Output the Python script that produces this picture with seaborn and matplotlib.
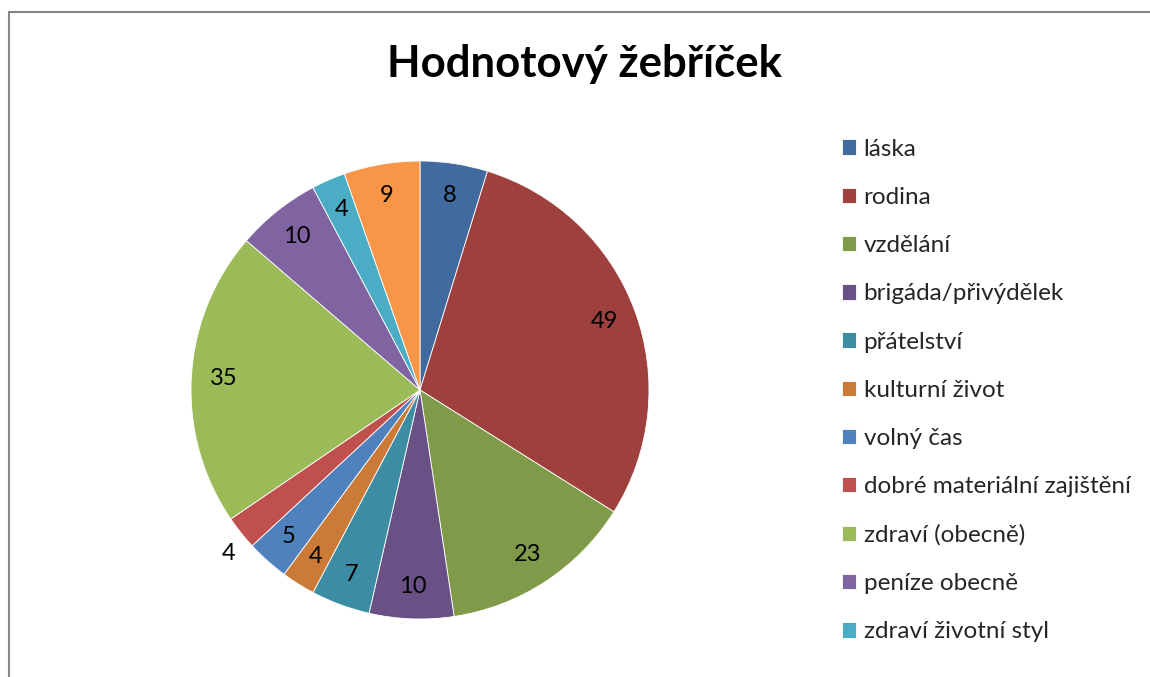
import numpy as np
import matplotlib
matplotlib.use("Agg")
import matplotlib.pyplot as plt
from matplotlib.patches import Rectangle
import seaborn as sns

categories = ["láska", "rodina", "vzdělání", "brigáda/přivýdělek", "přátelství",
              "kulturní život", "volný čas", "dobré materiální zajištění",
              "zdraví (obecně)", "peníze obecně", "zdraví životní styl", "ostatní"]
values = [8, 49, 23, 10, 7, 4, 5, 4, 35, 10, 4, 9]
colors = ["#416A9E", "#9E413E", "#7F9A48", "#695185", "#3C8DA3", "#CB7B37",
          "#4F81BD", "#C0504D", "#9BBB59", "#8064A2", "#4BACC6", "#F79646"]
legend_count = 11
title = "Hodnotový žebříček"

sns.set_theme(style="white")
plt.rcParams['font.family'] = ['Lato', 'DejaVu Sans']

W, H = 1150, 677
fig = plt.figure(figsize=(W / 100, H / 100), dpi=100)

# chart border
fig.patches.append(Rectangle((8.5 / W, -0.05), 1.2, 1 - 12 / H + 0.05,
                             transform=fig.transFigure, fill=False,
                             edgecolor="#868686", linewidth=1.5, zorder=0))

cx, cy, r = 420, 390, 229
ax = fig.add_axes([(cx - r) / W, (H - cy - r) / H, 2 * r / W, 2 * r / H])
wedges, _ = ax.pie(values, colors=colors, startangle=90, counterclock=False,
                   radius=1, wedgeprops=dict(edgecolor="white", linewidth=0.6))
ax.set_xlim(-1, 1)
ax.set_ylim(-1, 1)
ax.set_aspect("equal")
ax.axis("off")

for i, (w, v) in enumerate(zip(wedges, values)):
    ang = np.deg2rad((w.theta1 + w.theta2) / 2)
    d = 0.86
    if i == 7:
        ang += np.deg2rad(2)
        d = 1.10
    ax.text(d * np.cos(ang), d * np.sin(ang), str(v), ha="center", va="center",
            fontsize=17, color="black", clip_on=False)

fig.text(585 / W, 1 - 64 / H, title, ha="center", va="center",
         fontsize=31.5, fontweight="bold", color="black")

fig.legend(wedges[:legend_count], categories[:legend_count],
           loc="upper left", bbox_to_anchor=(832 / W, 1 - 129 / H),
           frameon=False, fontsize=17.5, handlelength=0.6, handleheight=0.6,
           handletextpad=0.3, labelspacing=1.12, borderaxespad=0)

fig.savefig("out.png", dpi=100)
